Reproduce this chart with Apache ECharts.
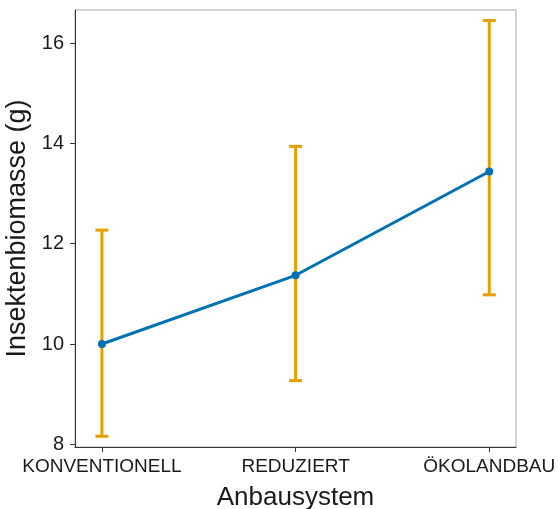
<!DOCTYPE html>
<html>
<head>
<meta charset="utf-8">
<script src="https://cdn.jsdelivr.net/npm/echarts@6/dist/echarts.min.js"></script>
<style>
html,body{margin:0;padding:0;background:#fff;}
#chart{width:558px;height:509px;}
</style>
</head>
<body>
<div id="chart"></div>
<script>
const categories = ["KONVENTIONELL", "REDUZIERT", "ÖKOLANDBAU"];
const means = [10.0, 11.37, 13.44];
const lower = [8.16, 9.27, 10.98];
const upper = [12.27, 13.94, 16.45];
const yTicks = [8, 10, 12, 14, 16];

const chart = echarts.init(document.getElementById('chart'));
const xPos = categories.map((c, i) => i + 1);
const font = 'Liberation Sans, Arial, Helvetica, sans-serif';

chart.setOption({
  animation: false,
  grid: {
    left: 75, right: 42, top: 10, bottom: 62,
    show: true, borderColor: '#aaaaaa', borderWidth: 1,
    containLabel: false, outerBoundsMode: 'none'
  },
  xAxis: {
    type: 'value', min: 0.861, max: 3.138,
    name: 'Anbausystem', nameLocation: 'middle', nameGap: 38,
    nameTextStyle: { fontFamily: font, fontSize: 26, color: '#1a1a1a' },
    axisLine: { show: true, lineStyle: { color: '#333', width: 1 } },
    axisTick: { show: true, customValues: xPos, length: 5, lineStyle: { color: '#333' } },
    axisLabel: {
      customValues: xPos, margin: 10, hideOverlap: false,
      fontFamily: font, fontSize: 19, color: '#1a1a1a',
      formatter: v => categories[Math.round(v) - 1]
    },
    splitLine: { show: false }
  },
  yAxis: {
    type: 'value', min: 7.946, max: 16.66,
    name: 'Insektenbiomasse (g)', nameLocation: 'middle', nameGap: 39,
    nameTextStyle: { fontFamily: font, fontSize: 27, color: '#1a1a1a' },
    axisLine: { show: true, lineStyle: { color: '#333', width: 1 } },
    axisTick: { show: true, customValues: yTicks, length: 5, lineStyle: { color: '#333' } },
    axisLabel: {
      customValues: yTicks, margin: 11,
      fontFamily: font, fontSize: 20, color: '#1a1a1a'
    },
    splitLine: { show: false }
  },
  series: [
    {
      type: 'custom',
      z: 2,
      renderItem: function (params, api) {
        const x = api.value(0);
        const lo = api.coord([x, api.value(1)]);
        const hi = api.coord([x, api.value(2)]);
        const half = 6.5;
        const style = { stroke: '#E69F00', lineWidth: 3 };
        return {
          type: 'group',
          children: [
            { type: 'line', shape: { x1: lo[0], y1: lo[1], x2: hi[0], y2: hi[1] }, style },
            { type: 'line', shape: { x1: lo[0] - half, y1: lo[1], x2: lo[0] + half, y2: lo[1] }, style },
            { type: 'line', shape: { x1: hi[0] - half, y1: hi[1], x2: hi[0] + half, y2: hi[1] }, style }
          ]
        };
      },
      data: xPos.map((x, i) => [x, lower[i], upper[i]])
    },
    {
      type: 'line',
      z: 3,
      data: xPos.map((x, i) => [x, means[i]]),
      symbol: 'circle', symbolSize: 8,
      itemStyle: { color: '#0072B2' },
      lineStyle: { color: '#0072B2', width: 3 }
    }
  ]
});
</script>
</body>
</html>
